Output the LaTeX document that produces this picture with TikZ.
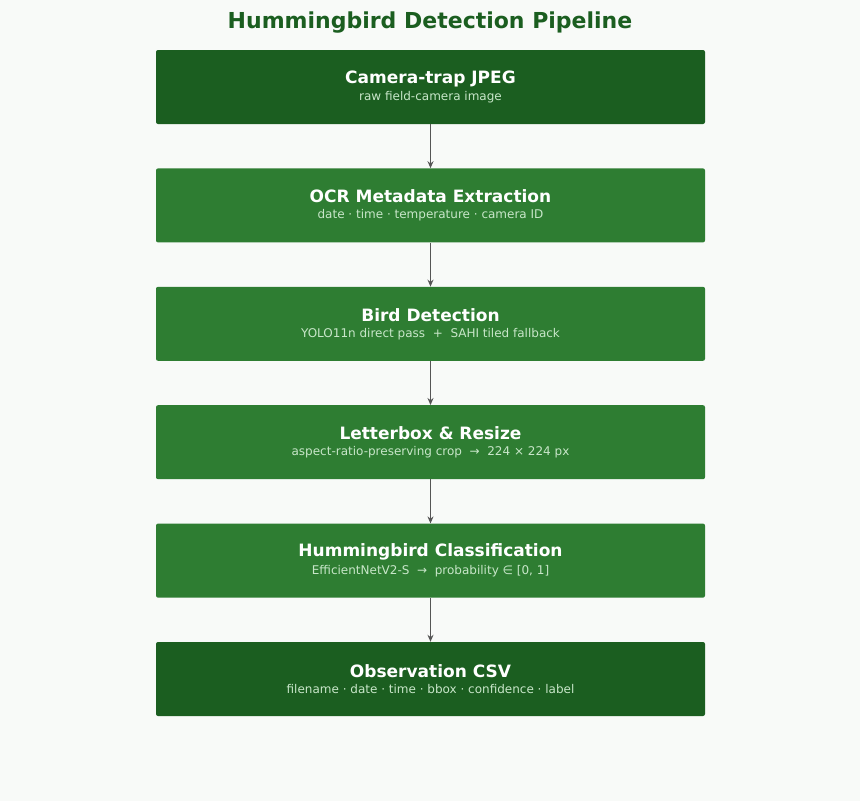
\documentclass[tikz,border=0pt]{standalone}
\usepackage{fontspec}
\setmainfont{DejaVu Sans}
\usetikzlibrary{positioning,arrows.meta}
\definecolor{bgcol}{HTML}{F8FAF8}
\definecolor{darkgr}{HTML}{1B5E20}
\definecolor{midgr}{HTML}{2E7D32}
\definecolor{subgr}{HTML}{C8E6C9}
\definecolor{arrgr}{HTML}{555555}
\tikzset{
  stage/.style={fill=midgr, rounded corners=2pt, minimum width=549pt, minimum height=74pt, inner sep=0pt, align=center, text=white},
  endstage/.style={stage, fill=darkgr},
  flow/.style={-{Stealth[length=7pt,width=6pt]}, draw=arrgr, line width=1.4pt}
}
\newcommand{\stagetext}[2]{{\fontsize{17}{20}\selectfont\bfseries #1}\\[4pt]{\fontsize{12}{14}\selectfont\color{subgr}#2}}
\begin{document}
\begin{tikzpicture}[x=1pt,y=1pt,node distance=44pt]
\fill[bgcol] (0,0) rectangle (860,-801);
\useasboundingbox (0,0) rectangle (860,-801);
\node (title) at (430,-23) [text=darkgr, font=\fontsize{22}{26}\selectfont\bfseries] {Hummingbird Detection Pipeline};
\node (jpeg) at (430.5,-87) [endstage] {\stagetext{Camera-trap JPEG}{raw field-camera image}};
\node (ocr) [stage, below=of jpeg] {\stagetext{OCR Metadata Extraction}{date · time · temperature · camera ID}};
\node (det) [stage, below=of ocr] {\stagetext{Bird Detection}{YOLO11n direct pass \ + \ SAHI tiled fallback}};
\node (lbox) [stage, below=of det] {\stagetext{Letterbox \& Resize}{aspect-ratio-preserving crop \ → \ 224 × 224 px}};
\node (cls) [stage, below=of lbox] {\stagetext{Hummingbird Classification}{EfficientNetV2-S \ → \ probability ∈ [0, 1]}};
\node (csv) [endstage, below=of cls] {\stagetext{Observation CSV}{filename · date · time · bbox · confidence · label}};
\foreach \a/\b in {jpeg/ocr, ocr/det, det/lbox, lbox/cls, cls/csv}
  \draw [flow] (\a) -- (\b);
\end{tikzpicture}
\end{document}
